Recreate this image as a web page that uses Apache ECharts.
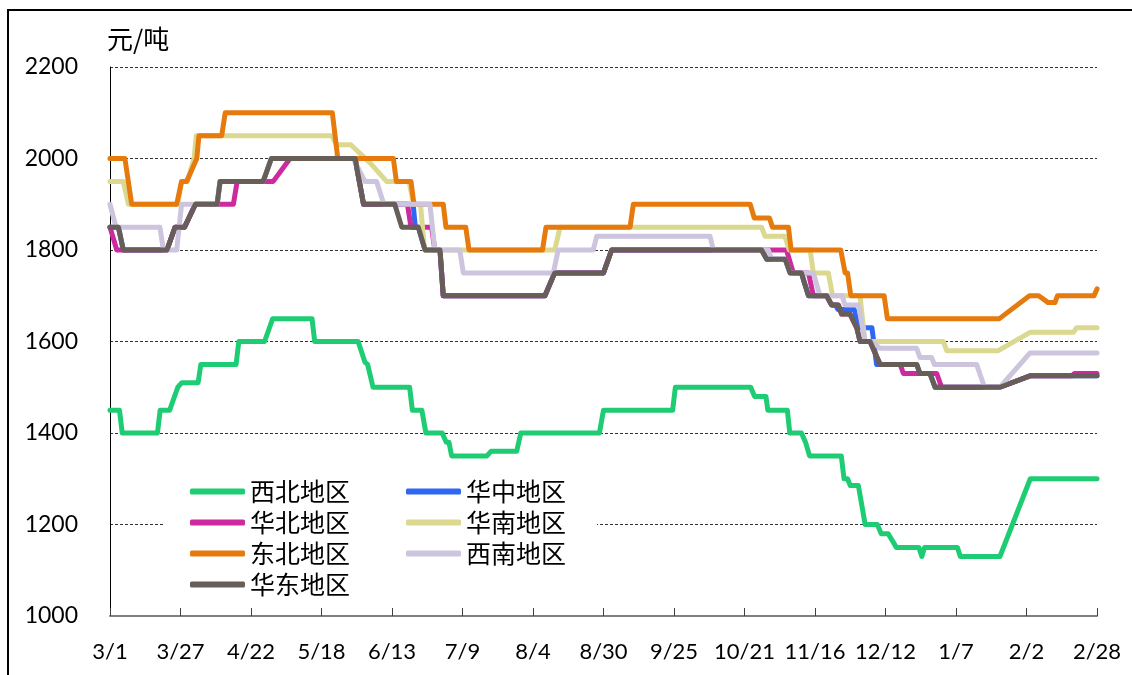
<!DOCTYPE html>
<html>
<head>
<meta charset="utf-8">
<script src="https://cdn.jsdelivr.net/npm/echarts@6/dist/echarts.min.js"></script>
<style>
  html, body { margin: 0; padding: 0; background: #fff; }
  #main { width: 1132px; height: 675px; }
</style>
</head>
<body>
<div id="main"></div>
<script>
// x 轴刻度（每 26 天一个）
const dateLabels = ['3/1', '3/27', '4/22', '5/18', '6/13', '7/9', '8/4', '8/30', '9/25', '10/21', '11/16', '12/12', '1/7', '2/2', '2/28']
const seriesNames = ['西北地区', '华中地区', '华北地区', '华南地区', '东北地区', '西南地区', '华东地区']

// [第几天(3/1 = 0), 元/吨]
const xibei = [[0,1450],[3.5,1450],[4.5,1400],[17.5,1400],[18.5,1450],[22,1450],[25,1500],[26.5,1510],[32.5,1510],[33.5,1550],[46.5,1550],[47.5,1600],[57,1600],[60,1650],[74.5,1650],[75.5,1600],[91.5,1600],[94,1555],[95,1550],[97,1500],[110.5,1500],[111.5,1450],[115,1450],[116.5,1400],[122.5,1400],[124,1380],[125,1380],[126,1350],[139,1350],[140.5,1360],[150,1360],[151.5,1400],[180.5,1400],[182,1450],[207.5,1450],[208.5,1500],[236.3,1500],[237.7,1480],[241.9,1480],[242.6,1450],[249.8,1450],[250.7,1400],[255,1400],[256.5,1380],[257,1380],[258,1350],[269.7,1350],[270.7,1300],[272,1300],[273,1285],[276,1285],[278.5,1200],[283,1200],[284.4,1180],[287,1180],[290,1150],[298.3,1150],[299.4,1130],[300.4,1150],[312.5,1150],[313.6,1130],[328.2,1130],[339.4,1300],[364,1300]]
const huazhong = [[0,1850],[3.1,1850],[4.9,1800],[21,1800],[24,1850],[27.5,1850],[31.5,1900],[39.5,1900],[40.6,1950],[56.5,1950],[59.5,2000],[90.4,2000],[93.5,1900],[111.8,1900],[112.6,1850],[113.7,1850],[116.2,1800],[121.7,1800],[122.9,1700],[160.4,1700],[164,1750],[182,1750],[185,1800],[240.3,1800],[242.2,1780],[249,1780],[250.8,1750],[255,1750],[256,1730],[256.5,1730],[257.6,1700],[264.3,1700],[266.1,1680],[267.5,1680],[268.5,1670],[274.5,1670],[276,1630],[281,1630],[282.7,1550],[297.5,1550],[298.7,1530],[302.4,1530],[304.3,1500],[328.2,1500],[339.3,1525],[364,1525]]
const huabei = [[0,1850],[0.5,1850],[2.5,1800],[21,1800],[24,1850],[27.5,1850],[31.5,1900],[45.5,1900],[46.9,1950],[60.2,1950],[66.4,2000],[90.4,2000],[93.5,1900],[109.7,1900],[111,1850],[118.6,1850],[119.8,1800],[121.7,1800],[122.9,1700],[160.4,1700],[164,1750],[182,1750],[185,1800],[249.5,1800],[252,1750],[257.6,1750],[259.4,1700],[264.3,1700],[266.1,1680],[268.6,1680],[269.8,1660],[272.9,1660],[275.4,1630],[276.6,1600],[280.3,1600],[284,1550],[291.4,1550],[292.6,1530],[304.9,1530],[306.7,1500],[328.2,1500],[339.3,1525],[354.7,1525],[355.7,1530],[364,1530]]
const huanan = [[0,1950],[4.9,1950],[6.8,1900],[25,1900],[26.4,1950],[28.5,1950],[31,2000],[31.8,2050],[81.8,2050],[83.5,2030],[88.8,2030],[96,1990],[102,1950],[110.3,1950],[111.9,1900],[114.5,1900],[116,1800],[164,1800],[166,1850],[240.3,1850],[241.6,1830],[248.9,1830],[250.5,1800],[258.2,1800],[259.4,1750],[264.9,1750],[266.5,1700],[276.6,1700],[278.4,1600],[307.3,1600],[308.6,1580],[327.6,1580],[339.3,1620],[355.3,1620],[356.5,1630],[364,1630]]
const dongbei = [[0,2000],[5.5,2000],[8,1900],[24.6,1900],[26.4,1950],[28.3,1950],[32,2000],[32.8,2050],[41.2,2050],[42.5,2100],[82,2100],[84,2000],[104.5,2000],[105.6,1950],[111,1950],[112.1,1900],[122.9,1900],[123.9,1850],[131.2,1850],[132.4,1800],[159.5,1800],[160.8,1850],[191.8,1850],[193,1900],[236.1,1900],[237.6,1870],[243.2,1870],[244.3,1850],[250.2,1850],[251.2,1800],[269.5,1800],[271.1,1750],[272,1750],[273.2,1700],[285.5,1700],[286.7,1650],[328,1650],[339.1,1700],[342.5,1700],[346,1685],[348.5,1685],[349.4,1700],[362.9,1700],[364,1715]]
const xinan = [[0,1900],[2.2,1850],[18.4,1850],[19.7,1800],[24.6,1800],[26.4,1900],[39.5,1900],[40.6,1950],[56.5,1950],[59.5,2000],[89.7,2000],[94,1950],[98.3,1950],[101,1900],[118,1900],[119.8,1800],[129,1800],[130.3,1750],[163.5,1750],[165.3,1800],[178.2,1800],[179.5,1830],[221.3,1830],[222.5,1800],[242.8,1800],[244,1780],[249,1780],[250.8,1750],[259.4,1750],[261.8,1700],[270,1700],[271,1680],[276,1680],[278.5,1600],[281,1600],[284,1585],[297.5,1585],[298.7,1565],[303,1565],[304,1550],[319.6,1550],[322.5,1500],[328.2,1500],[339.3,1575],[364,1575]]
const huadong = [[0,1850],[3.1,1850],[4.9,1800],[21,1800],[24,1850],[27.5,1850],[31.5,1900],[39.5,1900],[40.6,1950],[56.5,1950],[59.5,2000],[90.4,2000],[93.5,1900],[105,1900],[107.6,1850],[113.7,1850],[116.2,1800],[121.7,1800],[122.9,1700],[160.4,1700],[164,1750],[182,1750],[185,1800],[240.3,1800],[242.2,1780],[249,1780],[250.8,1750],[255,1750],[256,1730],[256.5,1730],[257.6,1700],[264.3,1700],[266.1,1680],[268.6,1680],[269.8,1660],[272.9,1660],[275.4,1630],[276.6,1600],[280.3,1600],[284,1550],[297.5,1550],[298.7,1530],[302.4,1530],[304.3,1500],[328.2,1500],[339.3,1525],[364,1525]]

const seriesData = [xibei, huazhong, huabei, huanan, dongbei, xinan, huadong]
const colors = ['#1ECD73', '#2F66F2', '#CC2A9E', '#DAD98F', '#E67A0C', '#CDC4DE', '#675F57']

const numFont = 'Lato, "Liberation Sans", sans-serif'
const cjkFont = '"Noto Sans CJK SC", sans-serif'

const legendBase = {
	orient: 'vertical',
	top: 468,
	itemWidth: 55,
	itemHeight: 6,
	itemGap: 0,
	icon: 'roundRect',
	backgroundColor: '#fff',
	selectedMode: false,
	textStyle: { fontSize: 25, lineHeight: 31, color: '#000', fontFamily: cjkFont }
}

const option = {
	animation: false,
	backgroundColor: '#fff',
	color: colors,
	grid: { left: 110, right: 35, top: 67, bottom: 59 },
	graphic: [
		{
			type: 'rect',
			shape: { x: 8, y: 10, width: 1200, height: 700 },
			style: { fill: 'none', stroke: '#000', lineWidth: 2 },
			silent: true
		},
		{
			type: 'text',
			left: 107,
			top: 26,
			style: { text: '元/吨', fontSize: 26, fill: '#000', fontFamily: cjkFont },
			silent: true
		}
	],
	legend: [
		Object.assign({}, legendBase, {
			left: 163,
			padding: [8, 50, 8, 27],
			data: ['西北地区', '华北地区', '东北地区', '华东地区']
		}),
		Object.assign({}, legendBase, {
			left: 396,
			padding: [8, 31, 8, 10],
			data: ['华中地区', '华南地区', '西南地区']
		})
	],
	xAxis: {
		type: 'value',
		min: 0,
		max: 364,
		interval: 26,
		splitLine: { show: false },
		axisLine: { lineStyle: { color: '#808080', width: 2 } },
		axisTick: { inside: true, length: 8, lineStyle: { color: '#404040', width: 1 } },
		axisLabel: {
			margin: 25,
			fontSize: 22,
			color: '#000',
			fontFamily: numFont,
			formatter: (v) => dateLabels[Math.round(v / 26)]
		}
	},
	yAxis: {
		type: 'value',
		min: 1000,
		max: 2200,
		interval: 200,
		axisLine: { show: true, lineStyle: { color: '#000', width: 1 } },
		axisTick: { show: false },
		splitLine: { lineStyle: { color: '#333', type: [3, 2], width: 1 } },
		axisLabel: {
			margin: 32,
			fontSize: 23,
			color: '#000',
			fontFamily: numFont,
			formatter: (v) => String(v)
		}
	},
	series: seriesNames.map((name, i) => ({
		name: name,
		type: 'line',
		data: seriesData[i],
		showSymbol: false,
		symbol: 'none',
		silent: true,
		lineStyle: { width: 5, color: colors[i], cap: 'round', join: 'round' },
		itemStyle: { color: colors[i] }
	}))
}

const myChart = echarts.init(document.getElementById('main'))
myChart.setOption(option)
</script>
</body>
</html>
